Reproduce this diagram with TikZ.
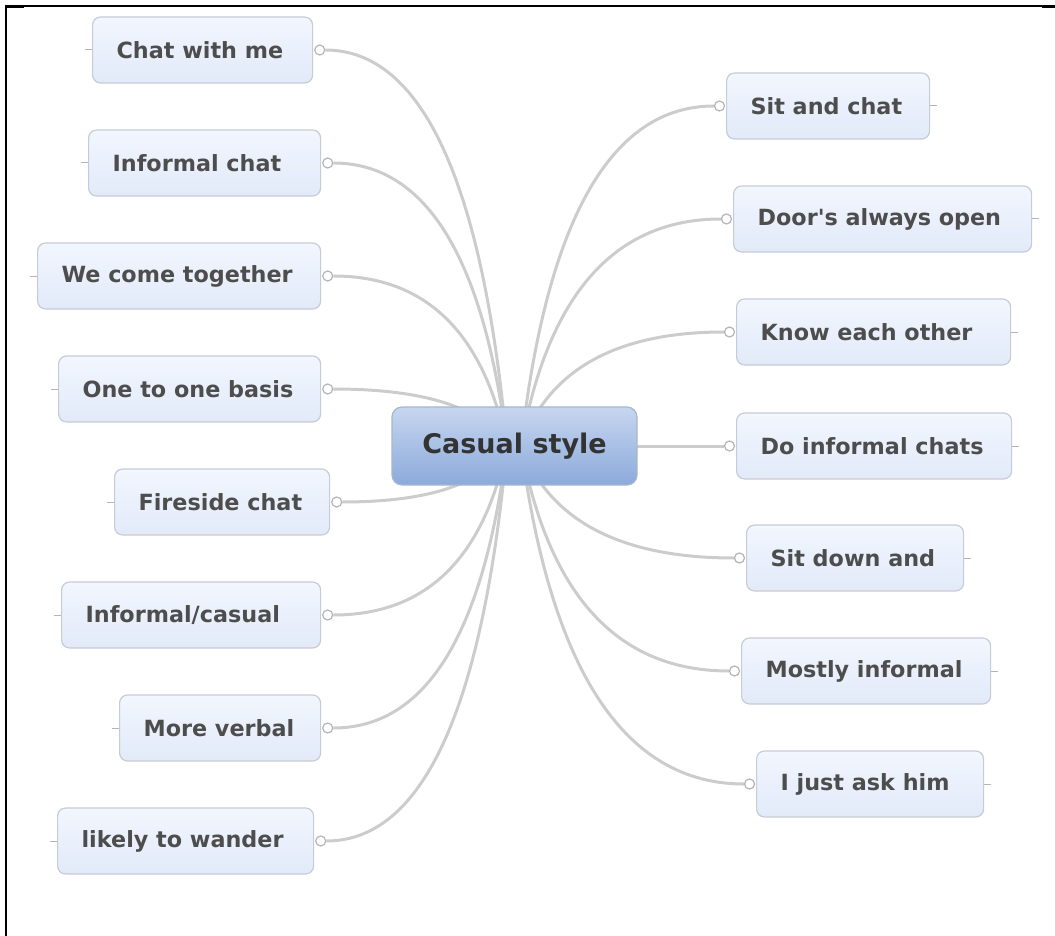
\documentclass[tikz,border=0pt]{standalone}
\usepackage{fontspec}
\setmainfont{DejaVu Sans}[Ligatures=TeXOff]
\usetikzlibrary{calc,backgrounds}

\definecolor{leaftxt}{HTML}{4D4D4D}
\definecolor{hubtxt}{HTML}{333333}
\definecolor{leafline}{HTML}{C6CCD6}
\definecolor{leaftop}{HTML}{F2F6FE}
\definecolor{leafbot}{HTML}{E2EAF9}
\definecolor{hubline}{HTML}{A8B6CE}
\definecolor{hubtop}{HTML}{C7D6EF}
\definecolor{hubbot}{HTML}{8BAADB}
\definecolor{wire}{HTML}{CCCCCC}
\definecolor{knobline}{HTML}{B4B4B4}

% fixed-width, left-aligned label inside a topic box
\newcommand\leaftext[2]{\makebox[#1pt][l]{#2}}

\tikzset{
  leaf/.style={draw=leafline, line width=1.2pt, rounded corners=8pt,
    top color=leaftop, bottom color=leafbot,
    inner xsep=24pt, inner ysep=0pt, minimum height=66pt, anchor=west,
    font=\fontsize{22.3}{26}\selectfont\bfseries, text=leaftxt},
  hub/.style={draw=hubline, line width=1.2pt, rounded corners=10pt,
    top color=hubtop, bottom color=hubbot,
    minimum width=245pt, minimum height=78pt, inner sep=0pt,
    font=\fontsize{27}{32}\selectfont\bfseries, text=hubtxt},
  knob/.style={circle, draw=knobline, fill=white, line width=1.2pt,
    minimum size=10pt, inner sep=0pt},
  stub/.style={draw=knobline, line width=1pt},
  wireline/.style={draw=wire, line width=3pt}
}

\begin{document}
\begin{tikzpicture}[x=1pt,y=-1pt]
\useasboundingbox (0,0) rectangle (1055,936);

% frame edges
\draw[line width=2.6pt] (6,936) -- (6,5);
\draw[line width=1.2pt] (5,6) -- (1055,6);
\draw[line width=2.2pt] (5,6.5) -- (24,6.5);
\draw[line width=2.2pt] (1042,6.5) -- (1055,6.5);

% central topic
\node[hub] (hub) at (514.5,446) {Casual style};
\coordinate (hubL) at (507,446);
\coordinate (hubR) at (521,446);

% left topics
\node[leaf] (l1) at (92,50)  {\leaftext{172}{Chat with me}};
\node[leaf] (l2) at (88,163) {\leaftext{184}{Informal chat}};
\node[leaf] (l3) at (37,276) {\leaftext{235}{We come together}};
\node[leaf] (l4) at (58,389) {\leaftext{214}{One to one basis}};
\node[leaf] (l5) at (114,502) {\leaftext{167}{Fireside chat}};
\node[leaf] (l6) at (61,615) {\leaftext{211}{Informal/casual}};
\node[leaf] (l7) at (119,728) {\leaftext{153}{More verbal}};
\node[leaf] (l8) at (57,841) {\leaftext{208}{likely to wander}};

% right topics
\node[leaf] (r1) at (726,106) {\leaftext{155}{Sit and chat}};
\node[leaf] (r2) at (733,219) {\leaftext{250}{Door's always open}};
\node[leaf] (r3) at (736,332) {\leaftext{226}{Know each other}};
\node[leaf] (r4) at (736,446) {\leaftext{227}{Do informal chats}};
\node[leaf] (r5) at (746,558) {\leaftext{169}{Sit down and}};
\node[leaf] (r6) at (741,671) {\leaftext{201}{Mostly informal}};
\node[leaf] (r7) at (756,784) {\leaftext{179}{I just ask him}};

% connection knobs and collapse stubs
\foreach \b in {l1,l2,l3,l4,l5,l6,l7,l8} {
  \node[knob] (k\b) at ([xshift=6.5pt]\b.east) {};
  \draw[stub] (\b.west) -- ++(-7,0);
}
\foreach \b in {r1,r2,r3,r4,r5,r6,r7} {
  \node[knob] (k\b) at ([xshift=-6.5pt]\b.west) {};
  \draw[stub] (\b.east) -- ++(7,0);
}

% branches behind the topics: quadratic curves that leave the hub
% steeply and arrive level at each knob
\begin{pgfonlayer}{background}
\foreach \b in {l1,l2,l3,l4,l5,l6,l7,l8}
  \draw[wireline] let \p1=(hubL), \p2=(k\b.east) in
    (\p1) .. controls ({\x1+0.1333*(\x2-\x1)},{\y1+0.6667*(\y2-\y1)})
             and ({\x2-0.5333*(\x2-\x1)},{\y2}) .. (\p2);
\foreach \b in {r1,r2,r3,r4,r5,r6,r7}
  \draw[wireline] let \p1=(hubR), \p2=(k\b.west) in
    (\p1) .. controls ({\x1+0.1333*(\x2-\x1)},{\y1+0.6667*(\y2-\y1)})
             and ({\x2-0.5333*(\x2-\x1)},{\y2}) .. (\p2);
\end{pgfonlayer}
\end{tikzpicture}
\end{document}
